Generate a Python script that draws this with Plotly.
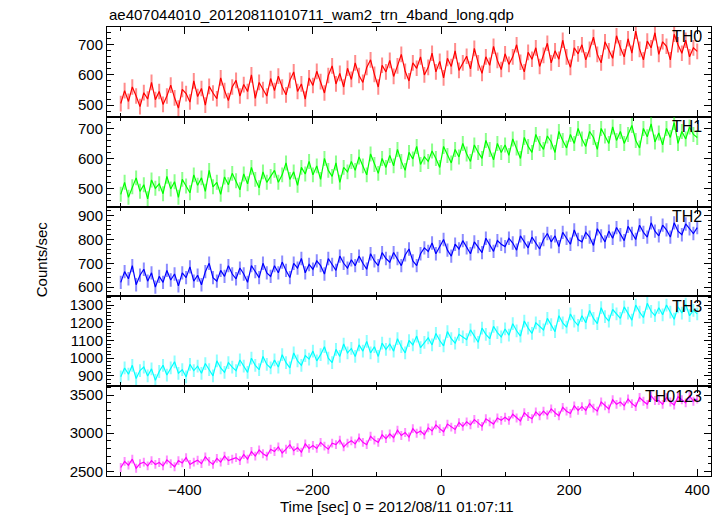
import numpy as np
import plotly.graph_objects as go
from plotly.subplots import make_subplots

# time bins (s), 6 s spacing from -500 to 400
t_start, t_step, n_bins = -500, 6, 151
time = t_start + t_step * np.arange(n_bins)

th0 = [505, 548, 512, 560, 530, 495, 541, 520, 575, 518,
       545, 502, 530, 566, 524, 490, 552, 538, 510, 580,
       528, 555, 500, 562, 540, 521, 590, 548, 515, 560,
       582, 530, 568, 545, 600, 522, 575, 551, 530, 588,
       548, 596, 560, 534, 582, 610, 545, 570, 520, 590,
       565, 612, 578, 540, 598, 630, 570, 605, 560, 622,
       585, 640, 598, 575, 625, 650, 602, 560, 632, 610,
       648, 595, 630, 668, 612, 580, 640, 622, 660, 600,
       625, 672, 610, 645, 590, 655, 628, 680, 615, 640,
       662, 620, 688, 640, 605, 660, 632, 695, 648, 618,
       670, 635, 660, 700, 642, 610, 675, 652, 690, 628,
       665, 705, 640, 680, 652, 715, 660, 625, 690, 670,
       700, 650, 685, 725, 668, 640, 710, 680, 655, 730,
       690, 660, 720, 672, 745, 685, 650, 712, 690, 740,
       668, 710, 695, 650, 735, 700, 672, 715, 660, 690,
       678]

th1 = [480, 520, 470, 505, 535, 490, 512, 465, 528, 500,
       515, 482, 540, 498, 522, 470, 530, 508, 485, 545,
       510, 535, 490, 560, 505, 520, 480, 538, 512, 550,
       525, 495, 548, 515, 570, 530, 502, 555, 520, 540,
       560, 520, 545, 585, 530, 555, 510, 570, 548, 590,
       545, 575, 530, 600, 560, 540, 585, 520, 570, 555,
       590, 560, 605, 575, 545, 615, 580, 550, 600, 570,
       610, 575, 630, 590, 560, 620, 598, 640, 580, 605,
       590, 625, 600, 570, 640, 610, 585, 630, 605, 650,
       615, 590, 645, 620, 600, 660, 630, 595, 650, 620,
       645, 610, 665, 635, 600, 670, 640, 620, 680, 650,
       630, 675, 655, 620, 690, 660, 635, 680, 650, 700,
       665, 640, 690, 670, 630, 700, 675, 650, 705, 660,
       690, 650, 680, 710, 660, 635, 700, 672, 715, 655,
       685, 645, 700, 670, 720, 650, 690, 665, 705, 680,
       670]

th2 = [620, 665, 635, 690, 610, 650, 675, 625, 660, 600,
       645, 620, 670, 630, 655, 605, 660, 640, 685, 625,
       650, 610, 665, 700, 640, 625, 670, 645, 690, 655,
       635, 680, 655, 620, 690, 665, 640, 700, 660, 645,
       690, 660, 705, 670, 640, 700, 680, 720, 660, 695,
       675, 710, 690, 655, 720, 695, 670, 730, 700, 680,
       715, 690, 730, 700, 675, 740, 710, 690, 745, 720,
       705, 745, 720, 690, 735, 760, 710, 690, 740, 765,
       750, 785, 740, 770, 800, 755, 730, 780, 760, 795,
       765, 740, 790, 770, 745, 805, 775, 750, 795, 780,
       770, 805, 785, 755, 815, 790, 765, 810, 785, 760,
       800, 825, 790, 815, 770, 830, 805, 780, 840, 800,
       790, 830, 810, 775, 845, 815, 790, 835, 805, 850,
       820, 795, 855, 825, 800, 860, 830, 810, 870, 835,
       815, 860, 840, 810, 870, 835, 820, 865, 845, 825,
       850]

th3 = [895, 945, 910, 960, 885, 930, 950, 900, 940, 875,
       925, 960, 905, 945, 980, 915, 935, 895, 965, 930,
       955, 915, 970, 935, 900, 985, 945, 920, 975, 950,
       930, 990, 955, 920, 1000, 960, 935, 1010, 965, 945,
       990, 950, 1020, 975, 945, 1030, 985, 960, 1015, 995,
       1040, 985, 1020, 1065, 1000, 975, 1050, 1010, 1080, 1030,
       1055, 1010, 1075, 1040, 1095, 1030, 1065, 1010, 1085, 1050,
       1080, 1040, 1110, 1065, 1030, 1100, 1075, 1125, 1060, 1090,
       1115, 1075, 1140, 1100, 1070, 1150, 1110, 1085, 1135, 1120,
       1105, 1160, 1125, 1090, 1170, 1135, 1110, 1180, 1145, 1120,
       1165, 1130, 1195, 1155, 1125, 1210, 1170, 1140, 1200, 1180,
       1160, 1225, 1190, 1150, 1240, 1200, 1175, 1250, 1210, 1185,
       1240, 1200, 1270, 1225, 1195, 1285, 1235, 1210, 1275, 1250,
       1225, 1290, 1255, 1215, 1300, 1260, 1230, 1310, 1265, 1240,
       1285, 1245, 1300, 1260, 1220, 1290, 1255, 1305, 1240, 1270,
       1250]

th0123 = [2550, 2630, 2580, 2660, 2540, 2600, 2620, 2570, 2640, 2590,
          2615, 2570, 2650, 2600, 2560, 2640, 2610, 2680, 2590, 2620,
          2645, 2600, 2690, 2630, 2590, 2670, 2620, 2700, 2640, 2660,
          2680, 2640, 2720, 2660, 2760, 2700, 2780, 2730, 2700, 2790,
          2760, 2820, 2740, 2790, 2850, 2770, 2810, 2750, 2860, 2800,
          2840, 2800, 2880, 2830, 2790, 2870, 2850, 2910, 2820, 2870,
          2900, 2860, 2940, 2880, 2850, 2960, 2910, 2880, 2980, 2930,
          2990, 2940, 3040, 2970, 3010, 2950, 3060, 3000, 3030, 2980,
          3070, 3030, 3110, 3060, 3020, 3120, 3080, 3050, 3140, 3090,
          3150, 3110, 3180, 3130, 3090, 3190, 3150, 3120, 3200, 3170,
          3210, 3170, 3250, 3200, 3160, 3270, 3220, 3190, 3280, 3230,
          3290, 3240, 3320, 3270, 3230, 3340, 3290, 3260, 3360, 3300,
          3350, 3300, 3390, 3330, 3290, 3410, 3360, 3320, 3440, 3380,
          3410, 3360, 3450, 3390, 3350, 3470, 3420, 3380, 3490, 3430,
          3430, 3380, 3470, 3410, 3370, 3480, 3440, 3400, 3490, 3420,
          3450]

names = ["TH0", "TH1", "TH2", "TH3", "TH0123"]
series = [th0, th1, th2, th3, th0123]
errors = [26, 25, 28, 36, 58]  # typical 1-sigma error per bin (counts/sec)
colors = ["#ff0000", "#00ff00", "#0000ff", "#00ffff", "#ff00ff"]
err_colors = ["rgba(255,0,0,0.45)", "rgba(0,255,0,0.45)", "rgba(0,0,255,0.45)",
              "rgba(0,255,255,0.45)", "rgba(255,0,255,0.45)"]
y_ranges = [[461, 759], [439, 739], [561, 938], [842, 1349], [2438, 3618]]
y_dticks = [100, 100, 100, 100, 500]
y_minor = [20, 20, 20, 20, 100]
x_range = [-521.5, 421.5]

title = "ae407044010_20120811010711_wam2_trn_4band_long.qdp"
x_title = "Time [sec] 0 = 2012/08/11 01:07:11"
y_title = "Counts/sec"

FONT = "Liberation Sans, Arial, Helvetica, sans-serif"

fig = make_subplots(rows=5, cols=1, shared_xaxes=True, vertical_spacing=0)

for i, (nm, ys, c) in enumerate(zip(names, series, colors)):
    r = i + 1
    fig.add_trace(go.Scatter(x=time, y=ys, mode="lines", name=nm,
                             line=dict(color=c, width=1.2),
                             error_y=dict(type="constant", value=errors[i],
                                          color=err_colors[i], thickness=2, width=0),
                             showlegend=False),
                  row=r, col=1)
    fig.update_yaxes(range=y_ranges[i], dtick=y_dticks[i], tick0=0,
                     ticks="inside", ticklen=7, tickwidth=1, tickcolor="black",
                     minor=dict(dtick=y_minor[i], ticks="inside", ticklen=3.5,
                                tickcolor="black", tickwidth=1),
                     showline=True, linecolor="black", linewidth=1, mirror="ticks",
                     showgrid=False, zeroline=False,
                     tickfont=dict(family=FONT, size=15, color="black"),
                     row=r, col=1)
    fig.update_xaxes(range=x_range, dtick=200, tick0=0,
                     ticks="inside", ticklen=7, tickwidth=1, tickcolor="black",
                     minor=dict(dtick=100, ticks="inside", ticklen=4,
                                tickcolor="black", tickwidth=1),
                     showline=True, linecolor="black", linewidth=1, mirror="ticks",
                     showgrid=False, zeroline=False,
                     showticklabels=(r == 5),
                     tickfont=dict(family=FONT, size=15, color="black"),
                     row=r, col=1)
    yref = "y domain" if r == 1 else f"y{r} domain"
    fig.add_annotation(text=nm, xref="paper", yref=yref, x=0.988, y=0.89,
                       xanchor="right", yanchor="middle", showarrow=False,
                       font=dict(family=FONT, size=16, color="black"))

fig.add_annotation(text=title, xref="paper", yref="paper", x=0.0, y=1.027,
                   xanchor="left", yanchor="middle", showarrow=False,
                   font=dict(family=FONT, size=15, color="black"))
fig.add_annotation(text=x_title, xref="paper", yref="paper", x=0.48, y=-0.069,
                   xanchor="center", yanchor="middle", showarrow=False,
                   font=dict(family=FONT, size=15, color="black"))
fig.add_annotation(text=y_title, xref="paper", yref="paper", x=-0.109, y=0.483,
                   xanchor="center", yanchor="middle", showarrow=False, textangle=-90,
                   font=dict(family=FONT, size=15, color="black"))

fig.update_layout(width=723, height=516, margin=dict(l=107, r=12, t=27, b=40),
                  paper_bgcolor="white", plot_bgcolor="white",
                  font=dict(family=FONT, size=15, color="black"))

fig.write_html("out.html", config={"displayModeBar": False},
               post_script="document.body.style.margin='0';")
